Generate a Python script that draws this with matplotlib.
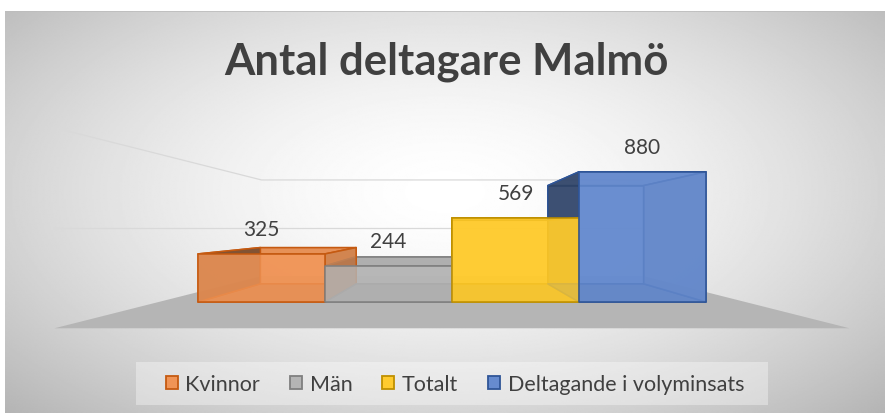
import numpy as np
import matplotlib
matplotlib.use("Agg")
import matplotlib.pyplot as plt
import matplotlib.colors as mcolors
from matplotlib.patches import Patch, Rectangle
from mpl_toolkits.mplot3d import proj3d
from mpl_toolkits.mplot3d.art3d import Poly3DCollection

# ---- data ----
title = "Antal deltagare Malmö"
series = ["Kvinnor", "Män", "Totalt", "Deltagande i volyminsats"]
values = [325, 244, 569, 880]
fill_colors = ["#ED7D31", "#A5A5A5", "#FFC000", "#4472C4"]
edge_colors = ["#C55A11", "#7F7F7F", "#BF9000", "#2F5597"]
z_max = 1000
gridlines = [500, 1000]

W, H, DPI = 885, 414, 100
TEXT = "#404040"
plt.rcParams["font.family"] = ["Lato", "DejaVu Sans"]

fig = plt.figure(figsize=(W / DPI, H / DPI), dpi=DPI)
fig.patch.set_facecolor("white")

# ---- radial gradient background of the chart area ----
bg = fig.add_axes([5 / W, 0, 1 - 5 / W, (H - 12) / H])
yy, xx = np.mgrid[0:1:300j, 0:1:600j]
r = np.sqrt(((xx - 0.5) / 0.55) ** 2 + ((yy - 0.45) / 0.62) ** 2)
level = 1 - 0.2 * r ** 1.6
bg.imshow(level, cmap="gray", vmin=0, vmax=1, aspect="auto",
          extent=(0, 1, 0, 1), origin="upper", interpolation="bilinear")
bg.axhline(1, color="#BDBDBD", lw=1.2)
bg.set_xlim(0, 1)
bg.set_ylim(0, 1)
bg.axis("off")

# ---- 3D scene (one-point perspective like the Excel 3D column chart) ----
ax = fig.add_axes([0, 0, 1, 1], projection="3d")
ax.patch.set_visible(False)
ax.set_axis_off()
ax.computed_zorder = False

n = len(values)
pad = 0.31
floor_px = (n + 2 * pad) * 127 * 0.878   # floor width on screen at mid depth
height_px = 148 * 0.878                  # 0..z_max on screen at mid depth
ax.set_box_aspect((floor_px, 300.0, height_px))
bx, by, bz = ax._box_aspect
side = floor_px / (bx * 0.1 / 0.185)
vp_x, vp_y = 452, 229
left = vp_x - 0.095 / 0.185 * side
bottom = (H - vp_y) - 0.095 / 0.185 * side
ax.set_position([left / W, bottom / H, side / W, side / H])

focal = 2.84 * (by / 2) / 10
ax.view_init(elev=0, azim=-90, roll=0)
ax.set_proj_type("persp", focal_length=focal)

x_lo, x_hi = -pad, n + pad
ax.set_xlim(x_lo, x_hi, view_margin=0)
ax.set_ylim(0, 1, view_margin=0)
ax.set_zlim(0, z_max, view_margin=0)

# wall gridlines (left wall + back wall)
for g in gridlines:
    ax.plot([x_lo, x_lo, x_hi], [0, 1, 1], [g, g, g],
            color="#D9D9D9", lw=0.9, zorder=1, clip_on=False)

# floor
floor = Poly3DCollection([[(x_lo, 0, 0), (x_hi, 0, 0), (x_hi, 1, 0), (x_lo, 1, 0)]],
                         facecolor="#B5B5B5", edgecolor="none", zorder=2)
floor.set_clip_on(False)
ax.add_collection3d(floor)

# bars: per-face colours (bottom, top, front, back, left, right)
bar_front, bar_depth = 0.327, 0.406
face_mult = [0.8, 0.95, 1.0, 1.0, 0.45, 0.85]
facecols, edgecols = [], []
for fc, ec in zip(fill_colors, edge_colors):
    base = np.array(mcolors.to_rgb(fc))
    light = base + (1 - base) * 0.18
    for m in face_mult:
        facecols.append((*(light * m), 0.82))
        edgecols.append(ec)
xs = np.arange(n)
bars = ax.bar3d(xs, np.full(n, bar_front), np.zeros(n),
                np.ones(n), np.full(n, bar_depth), values,
                color=facecols, edgecolor=edgecols, linewidth=1.1,
                shade=False, zorder=3)
bars.set_clip_on(False)

# data labels: project the 3D anchor above each bar onto the figure
fig.canvas.draw()
for i, v in enumerate(values):
    xp, yp, _ = proj3d.proj_transform(i + 0.5, bar_front, v + 170, ax.M)
    px, py = ax.transData.transform((xp, yp))
    fig.text(px / W, py / H, f"{v}", ha="center", va="center",
             fontsize=15, color=TEXT)

# ---- title ----
fig.text(446 / W, 1 - 75 / H, title, ha="center", va="baseline",
         fontsize=31.5, fontweight="bold", color=TEXT)

# ---- legend ----
fig.patches.append(Rectangle((136 / W, 1 - 406 / H), (768 - 136) / W, 43 / H,
                             transform=fig.transFigure, facecolor="white",
                             alpha=0.35, edgecolor="none"))
handles = []
for fc, ec in zip(fill_colors, edge_colors):
    base = np.array(mcolors.to_rgb(fc))
    handles.append(Patch(facecolor=base + (1 - base) * 0.18, edgecolor=ec, linewidth=1.3))
fig.legend(handles, series, loc="center", bbox_to_anchor=(455 / W, 1 - 385 / H),
           ncol=4, frameon=False, fontsize=15.5, handlelength=0.55, handleheight=0.55,
           handletextpad=0.35, columnspacing=1.4, labelcolor=TEXT)

fig.savefig("out.png", dpi=DPI)
